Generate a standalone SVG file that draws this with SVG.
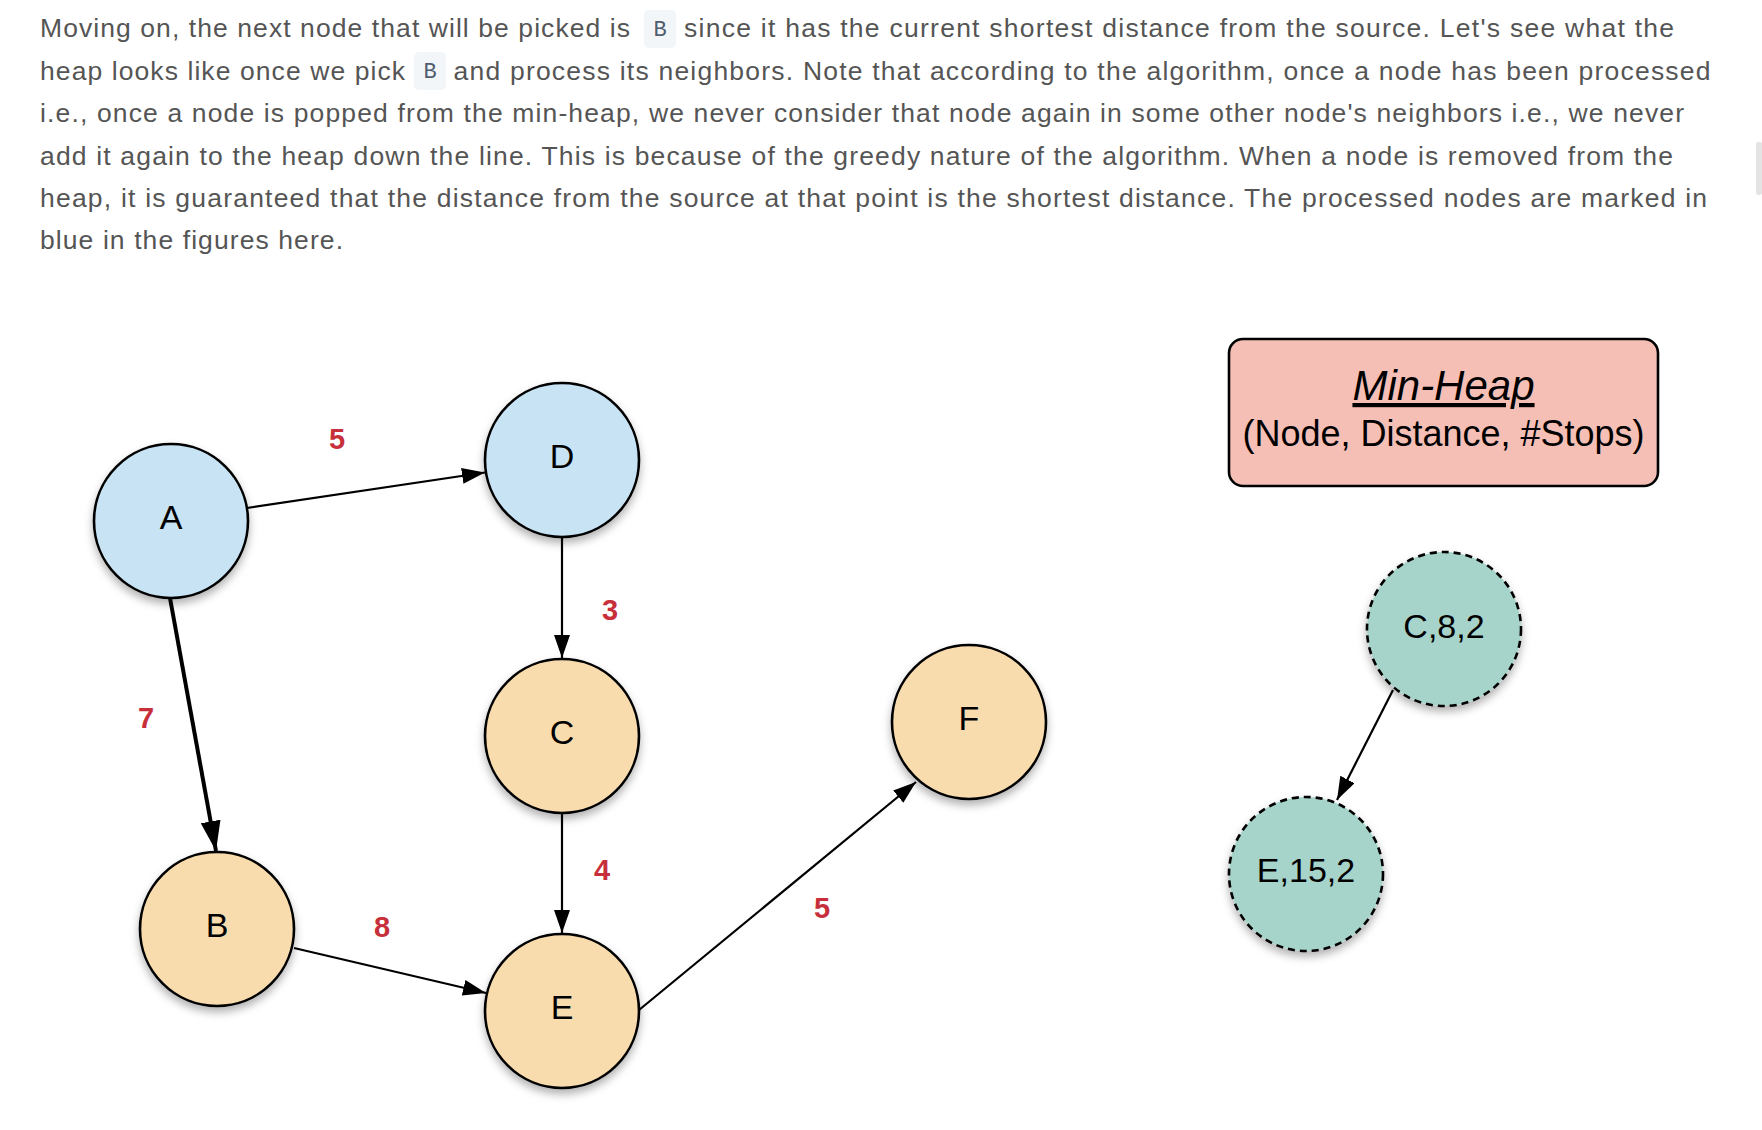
<svg xmlns="http://www.w3.org/2000/svg" width="1762" height="1130" viewBox="0 0 1762 1130">
<style>
.para{font-family:"Liberation Sans",Arial,sans-serif;font-size:26.5px;fill:#555555}
.code{font-family:"Liberation Mono","DejaVu Sans Mono",monospace;font-size:22px;fill:#4f5d6f;text-anchor:middle}
.codebox{fill:#f3f6f9}
.node{stroke:#000;stroke-width:2.6;filter:url(#sh)}
.blue{fill:#c7e3f4}
.orange{fill:#f9dcae}
.teal{fill:#a7d4ca;stroke-dasharray:7 5}
.lbl{font-family:"Liberation Sans",Arial,sans-serif;font-size:34px;fill:#000;text-anchor:middle}
.w{font-family:"Liberation Sans",Arial,sans-serif;font-size:29px;font-weight:bold;fill:#c7303a;text-anchor:middle}
.e{stroke:#000;stroke-width:2.2;fill:none;marker-end:url(#ah)}
.ek{stroke:#000;stroke-width:4;fill:none;marker-end:url(#ahk)}
</style>
<defs>
<filter id="sh" x="-30%" y="-30%" width="160%" height="170%">
<feDropShadow dx="0" dy="5" stdDeviation="4" flood-color="#000" flood-opacity="0.3"/>
</filter>
<marker id="ah" markerUnits="userSpaceOnUse" markerWidth="24" markerHeight="18" refX="23" refY="8" orient="auto">
<path d="M0,0 L23,8 L0,16 z" fill="#000"/>
</marker>
<marker id="ahk" markerUnits="userSpaceOnUse" markerWidth="32" markerHeight="22" refX="30" refY="10" orient="auto">
<path d="M0,0 L30,10 L0,20 z" fill="#000"/>
</marker>
</defs>
<rect width="1762" height="1130" fill="#fff"/>
<g id="paragraph">
<text class="para" x="40" y="37" textLength="590" lengthAdjust="spacing">Moving on, the next node that will be picked is</text>
<rect class="codebox" x="644" y="10" width="32" height="38" rx="5"/>
<text class="code" x="660" y="36">B</text>
<text class="para" x="684" y="37" textLength="990" lengthAdjust="spacing">since it has the current shortest distance from the source. Let's see what the</text>
<text class="para" x="40" y="79.5" textLength="365" lengthAdjust="spacing">heap looks like once we pick</text>
<rect class="codebox" x="414" y="52" width="32" height="38" rx="5"/>
<text class="code" x="430" y="78">B</text>
<text class="para" x="453.5" y="79.5" textLength="1257" lengthAdjust="spacing">and process its neighbors. Note that according to the algorithm, once a node has been processed</text>
<text class="para" x="40" y="122" textLength="1644" lengthAdjust="spacing">i.e., once a node is popped from the min-heap, we never consider that node again in some other node's neighbors i.e., we never</text>
<text class="para" x="40" y="164.5" textLength="1633" lengthAdjust="spacing">add it again to the heap down the line. This is because of the greedy nature of the algorithm. When a node is removed from the</text>
<text class="para" x="40" y="207" textLength="1667" lengthAdjust="spacing">heap, it is guaranteed that the distance from the source at that point is the shortest distance. The processed nodes are marked in</text>
<text class="para" x="40" y="249" textLength="303" lengthAdjust="spacing">blue in the figures here.</text>
<rect x="1756" y="142" width="6" height="53" rx="2" fill="#e4e4e4"/>
</g>
<g id="connectors">
<line class="e" x1="247" y1="508" x2="485" y2="472.5"/>
<line class="ek" x1="170" y1="598" x2="216" y2="851"/>
<line class="e" x1="562" y1="537" x2="562" y2="658"/>
<line class="e" x1="562" y1="813" x2="562" y2="933"/>
<line class="e" x1="294" y1="948" x2="486" y2="993"/>
<line class="e" x1="639" y1="1010" x2="916" y2="782"/>
<line class="e" x1="1393" y1="690" x2="1337" y2="800"/>
<text class="w" x="337" y="449">5</text>
<text class="w" x="610" y="620">3</text>
<text class="w" x="146" y="728">7</text>
<text class="w" x="382" y="937">8</text>
<text class="w" x="602" y="880">4</text>
<text class="w" x="822" y="918">5</text>
</g>
<g id="node-A"><circle class="node blue" cx="171" cy="521" r="77"/><text class="lbl" x="171" y="529">A</text></g>
<g id="node-D"><circle class="node blue" cx="562" cy="460" r="77"/><text class="lbl" x="562" y="468">D</text></g>
<g id="node-C"><circle class="node orange" cx="562" cy="736" r="77"/><text class="lbl" x="562" y="744">C</text></g>
<g id="node-F"><circle class="node orange" cx="969" cy="722" r="77"/><text class="lbl" x="969" y="730">F</text></g>
<g id="node-B"><circle class="node orange" cx="217" cy="929" r="77"/><text class="lbl" x="217" y="937">B</text></g>
<g id="node-E"><circle class="node orange" cx="562" cy="1011" r="77"/><text class="lbl" x="562" y="1019">E</text></g>
<g id="heap-title">
<rect x="1229" y="339" width="429" height="147" rx="14" fill="#f5bfb6" stroke="#000" stroke-width="2.6"/>
<text x="1443.5" y="400" font-family="'Liberation Sans',Arial,sans-serif" font-size="42" font-style="italic" text-decoration="underline" text-anchor="middle">Min-Heap</text>
<text x="1443.5" y="446" font-family="'Liberation Sans',Arial,sans-serif" font-size="36" text-anchor="middle">(Node, Distance, #Stops)</text>
</g>
<g id="heap-C"><circle class="node teal" cx="1444" cy="629" r="77"/><text class="lbl" x="1444" y="638">C,8,2</text></g>
<g id="heap-E"><circle class="node teal" cx="1306" cy="874" r="77"/><text class="lbl" x="1306" y="882">E,15,2</text></g>
</svg>
